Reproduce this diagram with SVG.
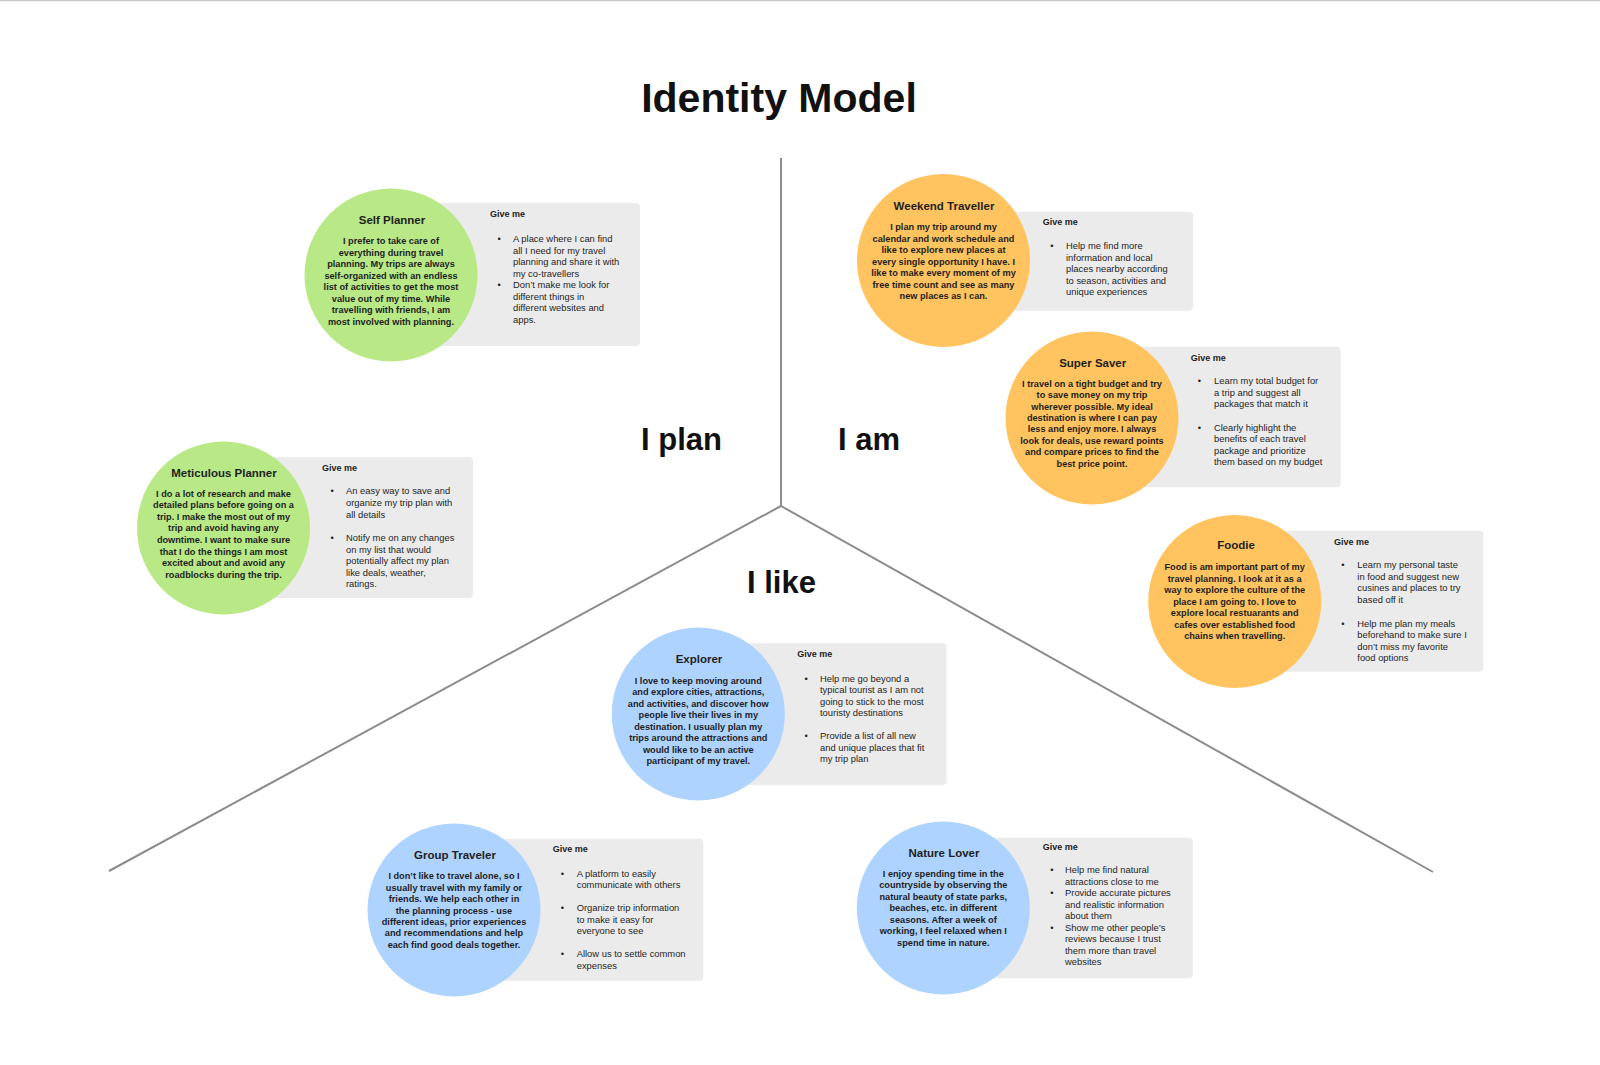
<svg xmlns="http://www.w3.org/2000/svg" width="1600" height="1065" viewBox="0 0 1600 1065">
<style>
text { font-family: "Liberation Sans", Arial, sans-serif; fill: #1e1e1e; }
.title { font-size: 41px; font-weight: bold; text-anchor: middle; fill: #111; }
.axis { font-size: 31px; font-weight: bold; fill: #111; }
.card { fill: #ebebeb; }
.green { fill: #b8e986; }
.orange { fill: #ffc45f; }
.blue { fill: #aed3ff; }
.name { font-size: 11.5px; font-weight: bold; text-anchor: middle; }
.body { font-size: 9.2px; font-weight: bold; text-anchor: middle; }
.give { font-size: 9px; font-weight: bold; }
.item { font-size: 9.4px; }
.conn { stroke: #8c8c8c; stroke-width: 2; fill: none; }
</style>
<rect x="0" y="0" width="1600" height="1065" fill="#ffffff"/>
<line x1="0" y1="0.5" x2="1600" y2="0.5" stroke="#c8c8c8" stroke-width="1.5"/>
<text class="title" x="779" y="112">Identity Model</text>

<g id="connectors">
<line class="conn" x1="781" y1="158" x2="781" y2="506"/>
<line class="conn" x1="781" y1="506" x2="109" y2="871"/>
<line class="conn" x1="781" y1="506" x2="1433" y2="872"/>
</g>

<g id="labels">
<text class="axis" x="641" y="450">I plan</text>
<text class="axis" x="838" y="450">I am</text>
<text class="axis" x="747" y="593">I like</text>
</g>

<g id="node-self-planner">
<rect class="card" x="391" y="203" width="249" height="143" rx="4"/>
<circle class="green" cx="391" cy="275" r="86.5"/>
<text class="name" x="392" y="224">Self Planner</text>
<text class="body" x="391" y="244"><tspan x="391" dy="0">I prefer to take care of</tspan><tspan x="391" dy="11.5">everything during travel</tspan><tspan x="391" dy="11.5">planning. My trips are always</tspan><tspan x="391" dy="11.5">self-organized with an endless</tspan><tspan x="391" dy="11.5">list of activities to get the most</tspan><tspan x="391" dy="11.5">value out of my time. While</tspan><tspan x="391" dy="11.5">travelling with friends, I am</tspan><tspan x="391" dy="11.5">most involved with planning.</tspan></text>
<text class="give" x="490" y="217">Give me</text>
<text class="item" x="497.5" y="242">•</text>
<text class="item" x="497.5" y="288">•</text>
<text class="item" x="513" y="242"><tspan x="513" dy="0">A place where I can find</tspan><tspan x="513" dy="11.5">all I need for my travel</tspan><tspan x="513" dy="11.5">planning and share it with</tspan><tspan x="513" dy="11.5">my co-travellers</tspan><tspan x="513" dy="11.5">Don’t make me look for</tspan><tspan x="513" dy="11.5">different things in</tspan><tspan x="513" dy="11.5">different websites and</tspan><tspan x="513" dy="11.5">apps.</tspan></text>
</g>

<g id="node-meticulous-planner">
<rect class="card" x="223.5" y="457" width="249.5" height="141" rx="4"/>
<circle class="green" cx="223.5" cy="528" r="86.5"/>
<text class="name" x="224" y="476.7">Meticulous Planner</text>
<text class="body" x="223.5" y="496.7"><tspan x="223.5" dy="0">I do a lot of research and make</tspan><tspan x="223.5" dy="11.57">detailed plans before going on a</tspan><tspan x="223.5" dy="11.57">trip. I make the most out of my</tspan><tspan x="223.5" dy="11.57">trip and avoid having any</tspan><tspan x="223.5" dy="11.57">downtime. I want to make sure</tspan><tspan x="223.5" dy="11.57">that I do the things I am most</tspan><tspan x="223.5" dy="11.57">excited about and avoid any</tspan><tspan x="223.5" dy="11.57">roadblocks during the trip.</tspan></text>
<text class="give" x="322" y="470.7">Give me</text>
<text class="item" x="330.5" y="494.3">•</text>
<text class="item" x="330.5" y="541">•</text>
<text class="item" x="346" y="494.3"><tspan x="346" dy="0">An easy way to save and</tspan><tspan x="346" dy="11.6">organize my trip plan with</tspan><tspan x="346" dy="11.6">all details</tspan><tspan x="346" dy="23.5">Notify me on any changes</tspan><tspan x="346" dy="11.6">on my list that would</tspan><tspan x="346" dy="11.6">potentially affect my plan</tspan><tspan x="346" dy="11.6">like deals, weather,</tspan><tspan x="346" dy="11.6">ratings.</tspan></text>
</g>

<g id="node-weekend-traveller">
<rect class="card" x="943.5" y="211.7" width="249.5" height="99" rx="4"/>
<circle class="orange" cx="943.5" cy="260.5" r="86.5"/>
<text class="name" x="944" y="209.5">Weekend Traveller</text>
<text class="body" x="943.5" y="230"><tspan x="943.5" dy="0">I plan my trip around my</tspan><tspan x="943.5" dy="11.5">calendar and work schedule and</tspan><tspan x="943.5" dy="11.5">like to explore new places at</tspan><tspan x="943.5" dy="11.5">every single opportunity I have. I</tspan><tspan x="943.5" dy="11.5">like to make every moment of my</tspan><tspan x="943.5" dy="11.5">free time count and see as many</tspan><tspan x="943.5" dy="11.5">new places as I can.</tspan></text>
<text class="give" x="1042.7" y="225">Give me</text>
<text class="item" x="1050.2" y="249">•</text>
<text class="item" x="1066" y="249"><tspan x="1066" dy="0">Help me find more</tspan><tspan x="1066" dy="11.5">information and local</tspan><tspan x="1066" dy="11.5">places nearby according</tspan><tspan x="1066" dy="11.5">to season, activities and</tspan><tspan x="1066" dy="11.5">unique experiences</tspan></text>
</g>

<g id="node-super-saver">
<rect class="card" x="1092" y="346.7" width="248.7" height="140.6" rx="4"/>
<circle class="orange" cx="1092" cy="418" r="86.5"/>
<text class="name" x="1092.7" y="366.7">Super Saver</text>
<text class="body" x="1092" y="386.7"><tspan x="1092" dy="0">I travel on a tight budget and try</tspan><tspan x="1092" dy="11.43">to save money on my trip</tspan><tspan x="1092" dy="11.43">wherever possible. My ideal</tspan><tspan x="1092" dy="11.43">destination is where I can pay</tspan><tspan x="1092" dy="11.43">less and enjoy more. I always</tspan><tspan x="1092" dy="11.43">look for deals, use reward points</tspan><tspan x="1092" dy="11.43">and compare prices to find the</tspan><tspan x="1092" dy="11.43">best price point.</tspan></text>
<text class="give" x="1190.7" y="360.7">Give me</text>
<text class="item" x="1197.8" y="384.3">•</text>
<text class="item" x="1197.8" y="430.7">•</text>
<text class="item" x="1214" y="384.3"><tspan x="1214" dy="0">Learn my total budget for</tspan><tspan x="1214" dy="11.5">a trip and suggest all</tspan><tspan x="1214" dy="11.5">packages that match it</tspan><tspan x="1214" dy="23.4">Clearly highlight the</tspan><tspan x="1214" dy="11.5">benefits of each travel</tspan><tspan x="1214" dy="11.5">package and prioritize</tspan><tspan x="1214" dy="11.5">them based on my budget</tspan></text>
</g>

<g id="node-foodie">
<rect class="card" x="1234.7" y="530.7" width="248.6" height="141" rx="4"/>
<circle class="orange" cx="1234.7" cy="601.5" r="86.5"/>
<text class="name" x="1236" y="549.3">Foodie</text>
<text class="body" x="1234.7" y="570"><tspan x="1234.7" dy="0">Food is am important part of my</tspan><tspan x="1234.7" dy="11.55">travel planning. I look at it as a</tspan><tspan x="1234.7" dy="11.55">way to explore the culture of the</tspan><tspan x="1234.7" dy="11.55">place I am going to. I love to</tspan><tspan x="1234.7" dy="11.55">explore local restuarants and</tspan><tspan x="1234.7" dy="11.55">cafes over established food</tspan><tspan x="1234.7" dy="11.55">chains when travelling.</tspan></text>
<text class="give" x="1334" y="545">Give me</text>
<text class="item" x="1341.2" y="568.3">•</text>
<text class="item" x="1341.2" y="626.7">•</text>
<text class="item" x="1357.3" y="568.3"><tspan x="1357.3" dy="0">Learn my personal taste</tspan><tspan x="1357.3" dy="11.5">in food and suggest new</tspan><tspan x="1357.3" dy="11.5">cusines and places to try</tspan><tspan x="1357.3" dy="11.5">based off it</tspan><tspan x="1357.3" dy="23.9">Help me plan my meals</tspan><tspan x="1357.3" dy="11.5">beforehand to make sure I</tspan><tspan x="1357.3" dy="11.5">don’t miss my favorite</tspan><tspan x="1357.3" dy="11.5">food options</tspan></text>
</g>

<g id="node-explorer">
<rect class="card" x="698.3" y="643.3" width="248.4" height="141.7" rx="4"/>
<circle class="blue" cx="698.3" cy="714" r="86.5"/>
<text class="name" x="699" y="663.3">Explorer</text>
<text class="body" x="698.3" y="684"><tspan x="698.3" dy="0">I love to keep moving around</tspan><tspan x="698.3" dy="11.43">and explore cities, attractions,</tspan><tspan x="698.3" dy="11.43">and activities, and discover how</tspan><tspan x="698.3" dy="11.43">people live their lives in my</tspan><tspan x="698.3" dy="11.43">destination. I usually plan my</tspan><tspan x="698.3" dy="11.43">trips around the attractions and</tspan><tspan x="698.3" dy="11.43">would like to be an active</tspan><tspan x="698.3" dy="11.43">participant of my travel.</tspan></text>
<text class="give" x="797.3" y="656.7">Give me</text>
<text class="item" x="804.5" y="681.7">•</text>
<text class="item" x="804.5" y="739.3">•</text>
<text class="item" x="820" y="681.7"><tspan x="820" dy="0">Help me go beyond a</tspan><tspan x="820" dy="11.5">typical tourist as I am not</tspan><tspan x="820" dy="11.5">going to stick to the most</tspan><tspan x="820" dy="11.5">touristy destinations</tspan><tspan x="820" dy="23.1">Provide a list of all new</tspan><tspan x="820" dy="11.5">and unique places that fit</tspan><tspan x="820" dy="11.5">my trip plan</tspan></text>
</g>

<g id="node-group-traveler">
<rect class="card" x="454" y="839" width="249.3" height="141.7" rx="4"/>
<circle class="blue" cx="454" cy="910" r="86.5"/>
<text class="name" x="455" y="859.3">Group Traveler</text>
<text class="body" x="454" y="879.3"><tspan x="454" dy="0">I don’t like to travel alone, so I</tspan><tspan x="454" dy="11.4">usually travel with my family or</tspan><tspan x="454" dy="11.4">friends. We help each other in</tspan><tspan x="454" dy="11.4">the planning process - use</tspan><tspan x="454" dy="11.4">different ideas, prior experiences</tspan><tspan x="454" dy="11.4">and recommendations and help</tspan><tspan x="454" dy="11.4">each find good deals together.</tspan></text>
<text class="give" x="552.7" y="851.7">Give me</text>
<text class="item" x="560.8" y="876.7">•</text>
<text class="item" x="560.8" y="911.2">•</text>
<text class="item" x="560.8" y="957.2">•</text>
<text class="item" x="576.7" y="876.7"><tspan x="576.7" dy="0">A platform to easily</tspan><tspan x="576.7" dy="11.5">communicate with others</tspan><tspan x="576.7" dy="23">Organize trip information</tspan><tspan x="576.7" dy="11.5">to make it easy for</tspan><tspan x="576.7" dy="11.5">everyone to see</tspan><tspan x="576.7" dy="23">Allow us to settle common</tspan><tspan x="576.7" dy="11.5">expenses</tspan></text>
</g>

<g id="node-nature-lover">
<rect class="card" x="943.3" y="837.7" width="249.4" height="140.6" rx="4"/>
<circle class="blue" cx="943.3" cy="908" r="86.5"/>
<text class="name" x="944" y="856.7">Nature Lover</text>
<text class="body" x="943.3" y="876.7"><tspan x="943.3" dy="0">I enjoy spending time in the</tspan><tspan x="943.3" dy="11.5">countryside by observing the</tspan><tspan x="943.3" dy="11.5">natural beauty of state parks,</tspan><tspan x="943.3" dy="11.5">beaches, etc. in different</tspan><tspan x="943.3" dy="11.5">seasons. After a week of</tspan><tspan x="943.3" dy="11.5">working, I feel relaxed when I</tspan><tspan x="943.3" dy="11.5">spend time in nature.</tspan></text>
<text class="give" x="1042.7" y="850">Give me</text>
<text class="item" x="1050.2" y="873.3">•</text>
<text class="item" x="1050.2" y="896.3">•</text>
<text class="item" x="1050.2" y="930.8">•</text>
<text class="item" x="1065" y="873.3"><tspan x="1065" dy="0">Help me find natural</tspan><tspan x="1065" dy="11.5">attractions close to me</tspan><tspan x="1065" dy="11.5">Provide accurate pictures</tspan><tspan x="1065" dy="11.5">and realistic information</tspan><tspan x="1065" dy="11.5">about them</tspan><tspan x="1065" dy="11.5">Show me other people’s</tspan><tspan x="1065" dy="11.5">reviews because I trust</tspan><tspan x="1065" dy="11.5">them more than travel</tspan><tspan x="1065" dy="11.5">websites</tspan></text>
</g>
</svg>
